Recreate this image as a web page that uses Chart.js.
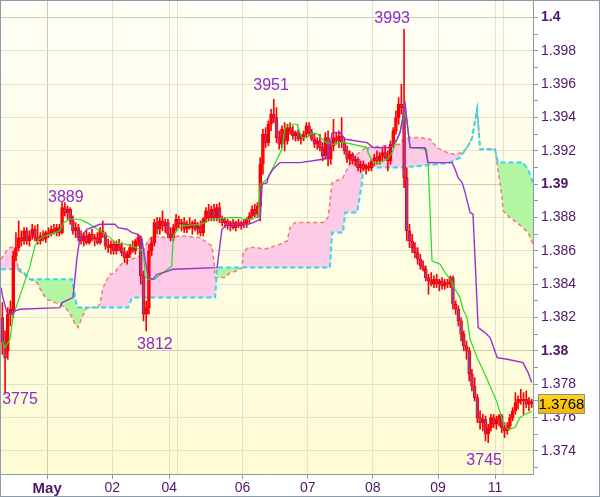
<!DOCTYPE html>
<html>
<head>
<meta charset="utf-8">
<script src="https://cdn.jsdelivr.net/npm/chart.js@4.4.1/dist/chart.umd.min.js"></script>
<style>
  html, body { margin: 0; padding: 0; background: #fff; }
  canvas { display: block; }
</style>
</head>
<body>
<canvas id="chart" width="600" height="497"></canvas>
<script>
// prices are kept in pips: 3862 means 1.3862
// one candle per hour, bar index 0 = Apr 30 07:00
const opens = [
  3820, 3805, 3800, 3822, 3824, 3857, 3862, 3868, 3866, 3872,
  3866, 3869, 3873, 3868, 3866, 3869, 3867, 3871, 3870, 3873,
  3871, 3874, 3871, 3886, 3883, 3885, 3878, 3872, 3874, 3868,
  3866, 3869, 3865, 3870, 3867, 3868, 3865, 3872, 3870, 3863,
  3862, 3864, 3860, 3864, 3862, 3859, 3856, 3858, 3862, 3860,
  3866, 3868, 3845, 3822, 3826, 3860, 3865, 3877, 3873, 3878,
  3875, 3877, 3870, 3868, 3874, 3879, 3876, 3877, 3873, 3876,
  3874, 3877, 3873, 3875, 3871, 3879, 3884, 3880, 3885, 3880,
  3886, 3879, 3877, 3878, 3875, 3877, 3874, 3877, 3875, 3877,
  3876, 3879, 3881, 3885, 3882, 3887, 3912, 3930, 3925, 3936,
  3942, 3940, 3928, 3924, 3933, 3926, 3934, 3932, 3929, 3931,
  3927, 3928, 3930, 3935, 3931, 3927, 3924, 3926, 3922, 3917,
  3928, 3915, 3923, 3928, 3926, 3929, 3925, 3920, 3915, 3918,
  3914, 3915, 3910, 3912, 3909, 3911, 3910, 3914, 3916, 3914,
  3917, 3919, 3916, 3914, 3924, 3932, 3940, 3948, 3946, 3904,
  3872, 3866, 3862, 3859, 3855, 3851, 3849, 3844, 3842, 3840,
  3843, 3840, 3842, 3839, 3841, 3840, 3844, 3828, 3825, 3818,
  3810, 3803, 3800, 3786, 3779, 3772, 3760, 3757, 3759, 3750,
  3754, 3760, 3756, 3759, 3761, 3754, 3752, 3755, 3760, 3764,
  3769, 3771, 3770, 3771, 3768, 3770
];
const highs = [
  3829, 3812, 3826, 3830, 3860, 3871, 3878, 3872, 3874, 3874,
  3872, 3876, 3875, 3876, 3871, 3872, 3872, 3874, 3875, 3876,
  3876, 3876, 3889, 3889, 3887, 3886, 3881, 3877, 3876, 3872,
  3871, 3872, 3871, 3873, 3870, 3871, 3874, 3878, 3871, 3867,
  3866, 3866, 3866, 3867, 3865, 3862, 3860, 3864, 3866, 3867,
  3870, 3869, 3848, 3830, 3864, 3868, 3879, 3880, 3880, 3884,
  3879, 3879, 3874, 3876, 3882, 3881, 3879, 3880, 3878, 3880,
  3878, 3879, 3877, 3878, 3880, 3886, 3888, 3887, 3888, 3888,
  3889, 3881, 3880, 3879, 3878, 3879, 3878, 3879, 3878, 3879,
  3880, 3883, 3887, 3888, 3889, 3916, 3933, 3934, 3938, 3945,
  3951, 3946, 3932, 3935, 3937, 3936, 3937, 3935, 3932, 3933,
  3930, 3932, 3937, 3937, 3933, 3930, 3928, 3930, 3925, 3931,
  3932, 3926, 3939, 3931, 3932, 3940, 3928, 3923, 3920, 3919,
  3917, 3916, 3914, 3914, 3912, 3913, 3915, 3918, 3920, 3919,
  3922, 3923, 3920, 3926, 3934, 3944, 3952, 3960, 3993, 3910,
  3876, 3870, 3865, 3862, 3858, 3854, 3851, 3846, 3847, 3845,
  3846, 3843, 3844, 3843, 3843, 3845, 3845, 3830, 3827, 3820,
  3812, 3806, 3802, 3789, 3784, 3774, 3764, 3762, 3761, 3756,
  3762, 3762, 3761, 3762, 3762, 3757, 3757, 3762, 3766, 3775,
  3773, 3777, 3775, 3776, 3772, 3771
];
const lows = [
  3798, 3775, 3795, 3815, 3820, 3854, 3860, 3863, 3864, 3864,
  3863, 3867, 3866, 3864, 3864, 3866, 3865, 3868, 3869, 3870,
  3869, 3869, 3870, 3881, 3879, 3876, 3870, 3868, 3866, 3864,
  3863, 3864, 3864, 3866, 3863, 3864, 3864, 3868, 3861, 3859,
  3858, 3858, 3858, 3860, 3857, 3853, 3852, 3856, 3859, 3858,
  3863, 3840, 3818, 3812, 3822, 3857, 3863, 3870, 3870, 3872,
  3871, 3868, 3866, 3866, 3872, 3874, 3872, 3871, 3871, 3873,
  3870, 3872, 3870, 3869, 3869, 3877, 3878, 3878, 3878, 3878,
  3877, 3875, 3874, 3873, 3872, 3873, 3872, 3874, 3873, 3874,
  3874, 3877, 3879, 3880, 3880, 3878, 3906, 3922, 3923, 3932,
  3937, 3925, 3921, 3922, 3920, 3924, 3930, 3927, 3926, 3926,
  3924, 3926, 3928, 3929, 3926, 3922, 3921, 3920, 3914, 3915,
  3911, 3912, 3920, 3924, 3922, 3922, 3918, 3913, 3912, 3912,
  3911, 3908, 3907, 3908, 3906, 3908, 3908, 3911, 3912, 3912,
  3914, 3915, 3908, 3912, 3922, 3930, 3936, 3942, 3898, 3866,
  3862, 3859, 3856, 3852, 3849, 3848, 3842, 3834, 3839, 3838,
  3838, 3836, 3837, 3837, 3838, 3838, 3825, 3822, 3815, 3806,
  3800, 3795, 3782, 3776, 3770, 3757, 3753, 3752, 3746, 3745,
  3752, 3754, 3753, 3755, 3751, 3748, 3750, 3753, 3758, 3762,
  3765, 3768, 3762, 3766, 3764, 3766
];
const closes = [
  3805, 3796, 3822, 3825, 3857, 3862, 3868, 3866, 3872, 3866,
  3869, 3873, 3868, 3866, 3869, 3867, 3871, 3870, 3873, 3871,
  3874, 3871, 3886, 3883, 3885, 3878, 3872, 3874, 3868, 3866,
  3869, 3865, 3870, 3867, 3868, 3865, 3872, 3870, 3863, 3862,
  3864, 3860, 3864, 3862, 3859, 3856, 3858, 3862, 3860, 3866,
  3868, 3845, 3822, 3826, 3860, 3865, 3877, 3873, 3878, 3875,
  3877, 3870, 3868, 3874, 3879, 3876, 3877, 3873, 3876, 3874,
  3877, 3873, 3875, 3871, 3879, 3884, 3880, 3885, 3880, 3886,
  3879, 3877, 3878, 3875, 3877, 3874, 3877, 3875, 3877, 3876,
  3879, 3881, 3885, 3882, 3887, 3912, 3930, 3925, 3936, 3942,
  3940, 3928, 3924, 3933, 3926, 3934, 3932, 3929, 3931, 3927,
  3928, 3930, 3935, 3931, 3927, 3924, 3926, 3922, 3917, 3928,
  3915, 3923, 3928, 3926, 3929, 3925, 3920, 3915, 3918, 3914,
  3915, 3910, 3912, 3909, 3911, 3910, 3914, 3916, 3914, 3917,
  3919, 3916, 3914, 3924, 3932, 3940, 3948, 3946, 3904, 3872,
  3866, 3862, 3859, 3855, 3851, 3849, 3844, 3842, 3840, 3843,
  3840, 3842, 3839, 3841, 3840, 3844, 3828, 3825, 3818, 3810,
  3803, 3800, 3786, 3779, 3772, 3760, 3757, 3759, 3750, 3754,
  3760, 3756, 3759, 3761, 3754, 3752, 3755, 3760, 3764, 3769,
  3771, 3770, 3771, 3768, 3770, 3768
];

// indicator lines as [bar, pips]
const tenkan = [
  [0, 3806], [1, 3802], [2.8, 3807], [4, 3821], [10.2, 3851], [12, 3863], [13.3, 3867],
  [15.7, 3869], [21.2, 3872], [22.5, 3877], [25, 3879], [28.6, 3879], [31.1, 3877],
  [34.1, 3874], [36, 3872], [39.7, 3868], [41.5, 3865], [45.2, 3864], [47.7, 3863],
  [50.7, 3861], [52, 3859], [52.6, 3845], [53.5, 3843], [56.3, 3843], [57.5, 3845],
  [61.8, 3850], [62.4, 3851], [63, 3869], [64.2, 3872], [66.1, 3875], [72.8, 3876],
  [77.6, 3879], [83.9, 3880], [87.6, 3880], [88.7, 3879], [91.2, 3879], [92.4, 3880],
  [94.2, 3880], [95, 3900], [97.5, 3903], [99.4, 3909], [103, 3921], [104.1, 3934],
  [106, 3936], [108.6, 3936], [108.9, 3934], [110.4, 3928], [112.3, 3928], [114.1, 3931],
  [116.3, 3930], [117.8, 3927], [119.6, 3925], [121.8, 3924], [124.4, 3925], [126.3, 3925],
  [134.4, 3922], [134.7, 3919], [136.6, 3913], [139.1, 3913], [141.7, 3915], [143.6, 3919],
  [145.4, 3927], [146.5, 3931], [147.6, 3938], [148.4, 3946], [150.2, 3922], [156.3, 3921],
  [156.9, 3912], [158.3, 3854], [159.8, 3853], [161.3, 3852], [163.1, 3847], [164.9, 3843],
  [166.8, 3837], [168.6, 3832], [169.7, 3825], [171.2, 3820], [172.3, 3807], [174.9, 3796],
  [178.6, 3783], [182.3, 3769], [184.5, 3757], [186.3, 3753], [188.9, 3754], [190.7, 3760],
  [192.6, 3762], [194.4, 3763], [195, 3764]
];
const kijun = [
  [-0.5, 3838], [0.2, 3832], [1.7, 3823], [3.6, 3822], [4.7, 3824], [6.5, 3825],
  [21.2, 3826], [22, 3829], [26, 3832], [27.5, 3856], [28.6, 3868], [31.2, 3873],
  [36, 3876], [41.5, 3876], [42.6, 3874], [45.9, 3873], [47.8, 3871], [50, 3870],
  [51.4, 3867], [53.7, 3844], [55.5, 3843], [57, 3846], [59.2, 3847], [62.9, 3849],
  [79.1, 3850], [80.9, 3873], [82.8, 3876], [90.5, 3876], [92.4, 3877], [95, 3879],
  [95.7, 3900], [97.5, 3901], [97.9, 3904], [99.7, 3909], [102.3, 3913], [109.7, 3913],
  [118.1, 3915], [120, 3916], [121.5, 3931], [124.4, 3931], [126.3, 3927], [134.4, 3925],
  [136.6, 3922], [142.8, 3922], [145.4, 3927], [146.5, 3931], [148.4, 3948], [150.2, 3922],
  [155.7, 3922], [156.8, 3913], [165.7, 3913], [166.8, 3909], [167.9, 3904], [169.4, 3901],
  [170.5, 3895], [172.3, 3883], [173.4, 3882], [175.3, 3814], [177.8, 3811], [179.7, 3808],
  [182.3, 3796], [186, 3795], [191.8, 3793], [193.7, 3787], [195, 3781]
];
const spanA = [
  [-0.5, 3855], [1, 3859], [2.8, 3862], [4.3, 3862], [5.4, 3853], [6.1, 3848], [7.2, 3847],
  [10.2, 3843], [12.8, 3841], [14.6, 3835], [16.4, 3831], [19.4, 3829], [21.2, 3828],
  [23.8, 3825], [25.7, 3820], [26.8, 3816], [27.9, 3814], [29.3, 3820], [31.2, 3826],
  [35.2, 3826], [36, 3829], [37.1, 3838], [38.6, 3843], [39.7, 3846], [41.5, 3847],
  [42.6, 3850], [44.4, 3853], [47, 3855], [49.6, 3856], [51.8, 3859], [53.5, 3866],
  [55.5, 3869], [60, 3868], [66, 3869], [72.8, 3868], [77.2, 3863], [78, 3853], [78.4, 3844],
  [82, 3844], [83.9, 3847], [86.5, 3848], [88.3, 3850], [88.7, 3859], [90.5, 3862],
  [93.8, 3862], [96.1, 3861], [98.6, 3862], [102.3, 3864], [104.9, 3866], [106, 3874],
  [107.8, 3877], [118.1, 3877], [120, 3880], [121.5, 3901], [124.4, 3903], [125.5, 3904],
  [127, 3909], [128.8, 3915], [130.7, 3918], [134, 3922], [146.5, 3924], [147.6, 3927],
  [150.2, 3928], [153.9, 3928], [157.6, 3927], [160.1, 3922], [163.8, 3919], [166.8, 3918],
  [169.4, 3919], [171.2, 3922], [173.1, 3928], [174.9, 3945], [176, 3921], [181.5, 3921],
  [182.6, 3909], [184.1, 3892], [184.5, 3884], [187, 3880], [189.6, 3877], [191.8, 3874],
  [193.7, 3871], [195.5, 3864]
];
const spanB = [
  [-0.5, 3849], [6.5, 3849], [10.2, 3843], [25.7, 3843], [27.5, 3826], [46.3, 3826],
  [47.8, 3832], [78.4, 3832], [79.1, 3850], [120.7, 3850], [121.5, 3871], [125.5, 3871],
  [126.3, 3883], [130.7, 3883], [132.5, 3901], [132.9, 3909], [133.6, 3910], [146.5, 3910],
  [153.9, 3911], [160, 3912], [164.9, 3913], [168.6, 3916], [171.2, 3922], [173.1, 3928],
  [174.9, 3945], [176, 3921], [181.5, 3921], [182.6, 3913], [191.8, 3913], [193.7, 3909],
  [195.5, 3901]
];

// day separators on the time axis
const dayStarts = [16.5, 40.5, 61.5, 64.5, 88.5, 112.5, 136.5, 160.5, 181.5, 184.5];
const dayLabels = ['May', '02', '04', '', '06', '07', '08', '09', '11', ''];

// price axis: view range and tick spacing, in pips
const priceMin = 3726.16;
const priceMax = 4010.56;
const priceTickFirst = 3730;
const priceTickLast = 4010;
const priceTickStep = 10;

// swing high / low labels, placed at [bar, pips]
const swingText = ['3993', '3951', '3889', '3812', '3775', '3745'];
const swingX = [143.6, 99, 23.4, 56.2, 6.5, 177.5];
const swingY = [3999.5, 3959, 3892, 3804, 3771, 3734];

const FONT = "'Liberation Sans', Arial, sans-serif";
const AXIS_TEXT = '#4e1668';
const AXIS_LINE = '#8a9bab';
const CLEAR = 'rgba(0,0,0,0)';

const toPoints = pairs => pairs.map(p => ({ x: p[0], y: p[1] }));
const fmtPrice = v => String(parseFloat((1 + v / 10000).toFixed(4)));
const tickVal = ctx => (ctx && ctx.tick) ? Math.round(ctx.tick.value) : null;

const wickData = highs.map((h, i) => ({ x: i, y: [lows[i], h] }));
const bodyData = opens.map((o, i) => ({ x: i, y: [o, closes[i]] }));
const bodyFill = opens.map((o, i) => closes[i] < o ? '#8a44a8' : CLEAR);

const backdrop = {
  id: 'backdrop',
  beforeDraw(chart) {
    const { ctx, chartArea: a } = chart;
    ctx.save();
    ctx.fillStyle = '#ffffff';
    ctx.fillRect(0, 0, chart.width, chart.height);
    const g = ctx.createLinearGradient(0, a.top, 0, a.bottom);
    g.addColorStop(0, '#fffff7');
    g.addColorStop(1, '#fefcd3');
    ctx.fillStyle = g;
    ctx.fillRect(a.left, a.top, a.right - a.left, a.bottom - a.top);
    ctx.restore();
  }
};

const extras = {
  id: 'extras',
  afterDatasetsDraw(chart) {
    const { ctx, scales: { x, y } } = chart;
    ctx.save();
    ctx.font = '16px ' + FONT;
    ctx.fillStyle = '#8e2bd0';
    ctx.textAlign = 'center';
    ctx.textBaseline = 'middle';
    swingText.forEach((t, i) => {
      ctx.fillText(t, x.getPixelForValue(swingX[i]), y.getPixelForValue(swingY[i]));
    });
    ctx.restore();
  },
  afterDraw(chart) {
    const { ctx, scales: { y } } = chart;
    ctx.save();
    // last price tag
    const last = closes[closes.length - 1];
    const py = Math.round(y.getPixelForValue(last));
    const bx = 538.5, bw = 46, bh = 19;
    const g = ctx.createLinearGradient(0, py - bh / 2, 0, py + bh / 2);
    g.addColorStop(0, '#ffd61a');
    g.addColorStop(1, '#f2b800');
    ctx.fillStyle = g;
    ctx.fillRect(bx, py - bh / 2, bw, bh);
    ctx.strokeStyle = '#8e8e8e';
    ctx.lineWidth = 1;
    ctx.strokeRect(bx, py - bh / 2, bw, bh);
    ctx.fillStyle = '#000';
    ctx.font = '15px ' + FONT;
    ctx.textAlign = 'center';
    ctx.textBaseline = 'middle';
    ctx.fillText(fmtPrice(last), bx + bw / 2, py + 1);
    // outer frame
    ctx.strokeStyle = AXIS_LINE;
    ctx.strokeRect(0.5, 0.5, chart.width - 1, chart.height - 1);
    ctx.restore();
  }
};

new Chart(document.getElementById('chart'), {
  type: 'line',
  data: {
    datasets: [
      {
        label: 'Senkou A',
        data: toPoints(spanA),
        borderColor: '#f27a7a',
        borderWidth: 1.5,
        borderDash: [4, 3],
        pointRadius: 0,
        fill: { target: 1, above: '#fdcae7', below: '#b3f6a2' },
        order: 6
      },
      {
        label: 'Senkou B',
        data: toPoints(spanB),
        borderColor: '#28dcee',
        borderWidth: 2,
        borderDash: [5, 3],
        pointRadius: 0,
        fill: false,
        order: 5
      },
      {
        type: 'bar',
        label: 'wick',
        data: wickData,
        backgroundColor: '#ff0000',
        borderWidth: 0,
        barThickness: 1,
        grouped: false,
        order: 4
      },
      {
        type: 'bar',
        label: 'body',
        data: bodyData,
        backgroundColor: bodyFill,
        borderColor: '#ff0000',
        borderWidth: 1,
        borderSkipped: false,
        barThickness: 3,
        grouped: false,
        order: 3
      },
      {
        label: 'Tenkan',
        data: toPoints(tenkan),
        borderColor: '#22dd22',
        borderWidth: 1.2,
        pointRadius: 0,
        fill: false,
        order: 2
      },
      {
        label: 'Kijun',
        data: toPoints(kijun),
        borderColor: '#9a2fd0',
        borderWidth: 1.4,
        pointRadius: 0,
        fill: false,
        order: 1
      }
    ]
  },
  options: {
    responsive: false,
    animation: false,
    layout: { padding: { left: 1, top: 0, right: 0, bottom: 0 } },
    plugins: {
      legend: { display: false },
      tooltip: { enabled: false }
    },
    scales: {
      x: {
        type: 'linear',
        min: -0.5,
        max: 195.5,
        bounds: 'data',
        offset: false,
        afterBuildTicks: scale => { scale.ticks = dayStarts.map(v => ({ value: v })); },
        afterFit: scale => {
          scale.height = 23;
          scale.paddingLeft = 0;
          scale.paddingRight = 0;
        },
        border: { display: true, color: AXIS_LINE, width: 1 },
        grid: {
          offset: false,
          color: ctx => (ctx && ctx.index === 0) ? '#cdcdae' : '#e3e3c8',
          tickColor: ctx => (ctx && ctx.tick && dayLabels[ctx.index]) ? AXIS_LINE : CLEAR,
          tickLength: 5
        },
        ticks: {
          autoSkip: false,
          maxRotation: 0,
          minRotation: 0,
          padding: 1,
          color: AXIS_TEXT,
          font: ctx => {
            const first = ctx && ctx.tick && ctx.index === 0;
            return { family: FONT, size: first ? 15 : 14, weight: first ? 'bold' : 'normal' };
          },
          callback: (value, index) => dayLabels[index] || ''
        }
      },
      y: {
        type: 'linear',
        position: 'right',
        min: priceMin,
        max: priceMax,
        bounds: 'data',
        afterBuildTicks: scale => {
          const t = [];
          for (let v = priceTickFirst; v <= priceTickLast; v += priceTickStep) t.push({ value: v });
          scale.ticks = t;
        },
        afterFit: scale => {
          scale.width = 67;
          scale.paddingTop = 0;
          scale.paddingBottom = 0;
        },
        border: { display: true, color: AXIS_LINE, width: 1 },
        grid: {
          offset: false,
          color: ctx => {
            const v = tickVal(ctx);
            if (v === null || v % 20 !== 0) return CLEAR;
            return v % 100 === 0 ? '#cdcdae' : '#e3e3c8';
          },
          tickColor: AXIS_LINE,
          tickLength: 5
        },
        ticks: {
          autoSkip: false,
          padding: 3,
          color: AXIS_TEXT,
          font: ctx => {
            const v = tickVal(ctx);
            return { family: FONT, size: 14, weight: (v !== null && v % 100 === 0) ? 'bold' : 'normal' };
          },
          callback: value => {
            const v = Math.round(value);
            return v % 20 === 0 ? fmtPrice(v) : '';
          }
        }
      }
    }
  },
  plugins: [backdrop, extras]
});
</script>
</body>
</html>
